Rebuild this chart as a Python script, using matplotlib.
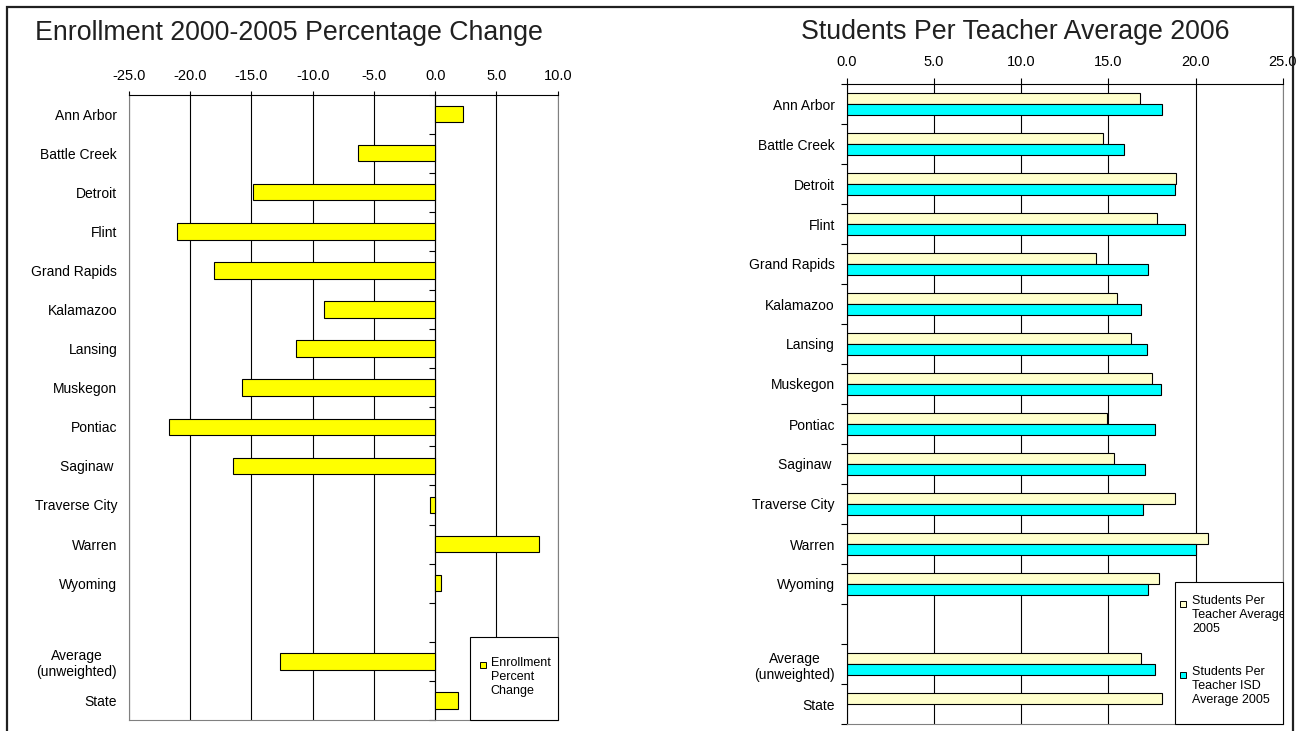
import numpy as np
import matplotlib.pyplot as plt
from matplotlib.patches import Rectangle
from matplotlib.ticker import FormatStrFormatter

plt.rcParams['font.family'] = ['Liberation Sans', 'DejaVu Sans']

# Données
villes = ['Ann Arbor', 'Battle Creek', 'Detroit', 'Flint', 'Grand Rapids', 'Kalamazoo',
          'Lansing', 'Muskegon', 'Pontiac', 'Saginaw ', 'Traverse City', 'Warren',
          'Wyoming', '', 'Average\n(unweighted)', 'State']
enroll_change = [2.3, -6.3, -14.9, -21.1, -18.1, -9.1, -11.4, -15.8, -21.7, -16.5,
                 -0.4, 8.5, 0.5, np.nan, -12.7, 1.9]
spt_2005 = [16.8, 14.7, 18.9, 17.8, 14.3, 15.5, 16.3, 17.5, 14.9, 15.3,
            18.8, 20.7, 17.9, np.nan, 16.9, 18.1]
spt_isd_2005 = [18.1, 15.9, 18.8, 19.4, 17.3, 16.9, 17.2, 18.0, 17.7, 17.1,
                17.0, 20.0, 17.3, np.nan, 17.7, np.nan]

xticks_gauche = [-25, -20, -15, -10, -5, 0, 5, 10]
xticks_droite = [0, 5, 10, 15, 20, 25]

nom_enroll = 'Enrollment\nPercent\nChange'
nom_2005 = 'Students Per\nTeacher Average\n2005'
nom_isd = 'Students Per\nTeacher ISD\nAverage 2005'

W, H = 1297, 731
y = np.arange(len(villes))
limites = np.arange(len(villes) + 1) - 0.5


def mise_en_forme(ax, xticks, long_tick, pad_tick):
    ax.set_xlim(xticks[0], xticks[-1])
    ax.set_ylim(len(villes) - 0.5, -0.5)
    ax.xaxis.tick_top()
    ax.set_xticks(xticks)
    ax.xaxis.set_major_formatter(FormatStrFormatter('%.1f'))
    ax.tick_params(axis='x', length=long_tick, width=0.8, pad=pad_tick, labelsize=10.5)
    ax.set_yticks(y, villes)
    ax.tick_params(axis='y', which='major', length=0, pad=8.5, labelsize=10)
    for lbl in ax.get_yticklabels():
        lbl.set_multialignment('center')
    ax.grid(axis='x', color='black', lw=0.8)
    ax.set_axisbelow(True)
    for s in ['bottom', 'right', 'left']:
        ax.spines[s].set_color('#808080')
    ax.spines['top'].set_color('black')


def legende(ax, boite, entrees, x_marq, x_txt):
    ax.add_patch(Rectangle(boite[:2], boite[2], boite[3], transform=ax.transAxes,
                           facecolor='white', edgecolor='black', lw=0.8, zorder=5, clip_on=False))
    for label, couleur, y_marq, y_txt in entrees:
        ax.plot([x_marq], [y_marq], marker='s', ms=4.5, mfc=couleur, mec='black', mew=0.7,
                transform=ax.transAxes, clip_on=False, zorder=6)
        ax.text(x_txt, y_txt, label, transform=ax.transAxes, fontsize=9, va='top', ha='left',
                linespacing=1.22, zorder=6, clip_on=True)


fig = plt.figure(figsize=(W / 100, H / 100), dpi=100)

# Graphique de gauche
ax1 = fig.add_axes([129 / W, 1 - 720 / H, 428.7 / W, 625.5 / H])
ax1.barh(y, enroll_change, height=0.42, color='#FFFF00', edgecolor='black', lw=0.8)
mise_en_forme(ax1, xticks_gauche, 3, 5.5)
axe0 = ax1.secondary_yaxis(0, transform=ax1.transData)
axe0.set_yticks(limites)
axe0.tick_params(axis='y', length=4, width=0.8, labelleft=False, labelright=False)
axe0.spines['left'].set_color('black')
legende(ax1, (0.7955, 0, 0.2045, 0.1327), [(nom_enroll, '#FFFF00', 0.0879, 0.1007)],
        0.8246, 0.8435)
fig.text(288.5 / W, 1 - 33 / H, 'Enrollment 2000-2005 Percentage Change',
         ha='center', va='center', fontsize=19.3, color='#202020')

# Graphique de droite
ax2 = fig.add_axes([846.7 / W, 1 - 724 / H, 436 / W, 640 / H])
ax2.barh(y - 0.1375, spt_2005, height=0.275, color='#FFFFCC', edgecolor='black', lw=0.8)
ax2.barh(y + 0.1375, spt_isd_2005, height=0.275, color='#00FFFF', edgecolor='black', lw=0.8)
mise_en_forme(ax2, xticks_droite, 4.5, 6.5)
ax2.set_yticks(limites, minor=True)
ax2.tick_params(axis='y', which='minor', length=4, width=0.8)
ax2.spines['left'].set_color('black')
legende(ax2, (0.753, 0, 0.247, 0.2219),
        [(nom_2005, '#FFFFCC', 0.1875, 0.2010), (nom_isd, '#00FFFF', 0.0758, 0.0905)],
        0.7713, 0.792)
fig.text(1015 / W, 1 - 32 / H, 'Students Per Teacher Average 2006',
         ha='center', va='center', fontsize=19.3, color='#202020')

# Cadre
fig.add_artist(Rectangle((6.5 / W, -0.1), (1292.5 - 6.5) / W, 1.1 - 7 / H,
                         transform=fig.transFigure, fill=False, ec='#202020', lw=1.6))

plt.savefig('out.png', dpi=100)
